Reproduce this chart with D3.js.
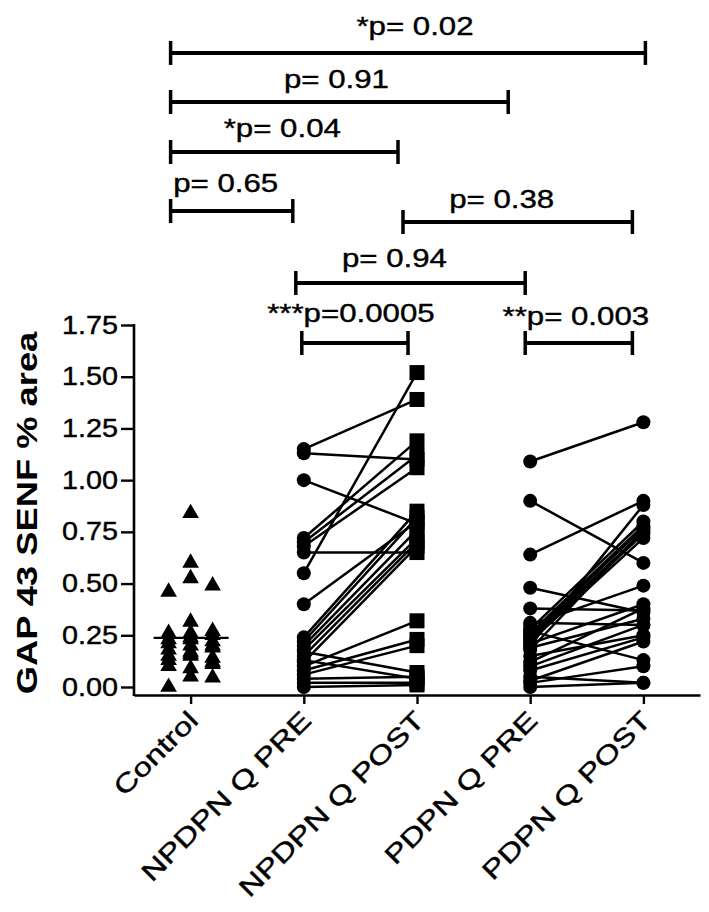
<!DOCTYPE html>
<html><head><meta charset="utf-8">
<script src="https://cdn.jsdelivr.net/npm/d3@7"></script>
<style>body{margin:0;background:#fff} svg{display:block}</style>
</head><body><svg id="c" width="709" height="912"></svg>
<script>
// ---------------- DATA ----------------
const categories = ["Control", "NPDPN Q PRE", "NPDPN Q POST", "PDPN Q PRE", "PDPN Q POST"];
const yTicks = [0, 0.25, 0.5, 0.75, 1.0, 1.25, 1.5, 1.75];
const yTitle = "GAP 43 SENF % area";

const controlValues = [0.84, 0.60, 0.525, 0.49, 0.46, 0.315, 0.27, 0.26, 0.26, 0.25, 0.24, 0.23, 0.23, 0.22, 0.21, 0.20,
  0.20, 0.19, 0.18, 0.17, 0.16, 0.15, 0.15, 0.14, 0.13, 0.12, 0.11, 0.10, 0.09, 0.05, 0.045, 0.00];

const npdpnPre  = [1.15, 1.13, 1.00, 0.55, 0.72, 0.70, 0.65, 0.68, 0.40, 0.24, 0.22, 0.20, 0.18, 0.15, 0.12, 0.10, 0.08, 0.06, 0.17, 0.04, 0.02, 0.00, 0.13];
const npdpnPost = [1.39, 1.10, 0.79, 1.52, 1.19, 1.12, 0.65, 1.06, 0.80, 0.85, 0.82, 0.76, 0.72, 0.70, 0.68, 0.32, 0.23, 0.20, 0.07, 0.05, 0.02, 0.01, 0.04];

const pdpnPre  = [1.09, 0.90, 0.64, 0.48, 0.38, 0.30, 0.28, 0.26, 0.25, 0.24, 0.23, 0.22, 0.20, 0.18, 0.27, 0.31, 0.21, 0.19, 0.15, 0.12, 0.10, 0.08, 0.05, 0.02, 0.03, 0.00];
const pdpnPost = [1.28, 0.60, 0.90, 0.36, 0.37, 0.49, 0.80, 0.78, 0.77, 0.75, 0.74, 0.72, 0.88, 0.76, 0.13, 0.30, 0.40, 0.33, 0.25, 0.38, 0.30, 0.24, 0.02, 0.10, 0.22, 0.02];

const annLabels = ["*p= 0.02", "p= 0.91", "*p= 0.04", "p= 0.65", "p= 0.38", "p= 0.94", "***p=0.0005", "**p= 0.003"];
const annFrom = [0, 0, 0, 0, 2, 1, 1, 3];
const annTo   = [4, 3, 2, 1, 4, 3, 2, 4];

// ---------------- LAYOUT ----------------
const annLayout = [ // bar y, end nudges, label centre nudge, label baseline offset
  {y: 53,  d1: -20, d2: 2,   tdx: 7,   tdy: -18},
  {y: 102, d1: -20, d2: -22, tdx: -3,  tdy: -14},
  {y: 152, d1: -20, d2: -19, tdx: -2,  tdy: -15},
  {y: 211, d1: -20, d2: -11, tdx: -6,  tdy: -19},
  {y: 222, d1: -14, d2: -11, tdx: -16, tdy: -14},
  {y: 283, d1: -8,  d2: -5,  tdx: -16, tdy: -16},
  {y: 343, d1: -2,  d2: -9,  tdx: -4,  tdy: -21},
  {y: 343, d1: -5,  d2: -11, tdx: -3,  tdy: -18}
];

const font = "'Liberation Sans', Arial, Helvetica, sans-serif";
const axisX0 = 134, axisX1 = 700, axisY = 695;
const svg = d3.select("#c");

const x = d3.scalePoint().domain(categories).range([axisX0, axisX1]).padding(0.5);
const y = d3.scaleLinear().domain([0, 1.75]).range([687, 325]);

function fit(sel, f) {
  sel.each(function () {
    const w = this.getComputedTextLength();
    d3.select(this).attr("textLength", w * f).attr("lengthAdjust", "spacingAndGlyphs");
  });
}
function heavy(sel, w) { sel.attr("stroke", "#000").attr("stroke-width", w).attr("paint-order", "stroke"); }

// ---- Y axis ----
const gy = svg.append("g").attr("transform", `translate(${axisX0},0)`)
  .call(d3.axisLeft(y).tickValues(yTicks).tickFormat(d3.format(".2f")).tickSize(13).tickPadding(3));
gy.select(".domain").remove();
gy.append("line").attr("x1", 0).attr("x2", 0).attr("y1", y(1.75) - 1).attr("y2", axisY + 1)
  .attr("stroke", "#000").attr("stroke-width", 2.6);
gy.selectAll(".tick line").attr("stroke", "#000").attr("stroke-width", 2.4);
gy.selectAll(".tick text").attr("font-family", font).attr("font-size", 25).attr("fill", "#000")
  .call(fit, 1.15).call(heavy, 0.4);

// ---- X axis ----
const gx = svg.append("g").attr("transform", `translate(0,${axisY})`)
  .call(d3.axisBottom(x).tickSize(9).tickSizeOuter(0).tickFormat(""));
gx.select(".domain").attr("stroke", "#000").attr("stroke-width", 2.6);
gx.selectAll(".tick line").attr("stroke", "#000").attr("stroke-width", 2.4);

svg.append("g").selectAll("text").data(categories).join("text")
  .attr("transform", d => `translate(${x(d) + 9},722) rotate(-45)`)
  .attr("text-anchor", "end")
  .attr("font-family", font).attr("font-size", 26).attr("fill", "#000")
  .text(d => d)
  .call(fit, 1.27).call(heavy, 0.4);

// ---- Y title ----
svg.append("text")
  .attr("transform", `translate(37,${(y(1.75) + axisY) / 2 + 3}) rotate(-90)`)
  .attr("text-anchor", "middle")
  .attr("font-family", font).attr("font-size", 30).attr("font-weight", "bold").attr("fill", "#000")
  .text(yTitle)
  .call(fit, 1.21);

// ---- paired lines ----
const pairs = [
  {a: categories[1], b: categories[2], pre: npdpnPre, post: npdpnPost},
  {a: categories[3], b: categories[4], pre: pdpnPre, post: pdpnPost}
];
const gLines = svg.append("g");
pairs.forEach(p => {
  gLines.selectAll(null).data(p.pre.map((v, i) => [v, p.post[i]])).join("line")
    .attr("x1", x(p.a)).attr("x2", x(p.b))
    .attr("y1", d => y(d[0])).attr("y2", d => y(d[1]))
    .attr("stroke", "#000").attr("stroke-width", 2.5);
});

// ---- markers ----
const gM = svg.append("g");
[[categories[1], npdpnPre], [categories[3], pdpnPre], [categories[4], pdpnPost]].forEach(([c, vals]) => {
  gM.selectAll(null).data(vals).join("circle")
    .attr("cx", x(c)).attr("cy", d => y(d)).attr("r", 7).attr("fill", "#000");
});
gM.selectAll(null).data(npdpnPost).join("rect")
  .attr("x", x(categories[2]) - 7.5).attr("y", d => y(d) - 7.5)
  .attr("width", 15).attr("height", 15).attr("fill", "#000");

// control triangles, scatter spread (overlap allowed, limited width)
const step = 11, maxK = 6;
const placed = [];
controlValues.map(v => ({v})).sort((a, b) => b.v - a.v).forEach(p => {
  const py = y(p.v);
  let best = null, bestC = Infinity;
  for (let k = 0; k <= maxK; k++) {
    const off = (k % 2 ? 1 : -1) * Math.ceil(k / 2) * step;
    const c = placed.filter(q => Math.abs(q.off - off) < 20 && Math.abs(q.py - py) < 15).length;
    if (c < bestC) { bestC = c; best = off; }
    if (c === 0) break;
  }
  p.off = best; p.py = py; placed.push(p);
});
const tri = d3.symbol(d3.symbolTriangle, 120);
gM.selectAll(null).data(placed).join("path")
  .attr("d", tri)
  .attr("transform", d => `translate(${x(categories[0]) + d.off},${d.py})`)
  .attr("fill", "#000");
const cm = d3.mean(controlValues);
svg.append("line").attr("x1", x(categories[0]) - 37).attr("x2", x(categories[0]) + 38)
  .attr("y1", y(cm)).attr("y2", y(cm)).attr("stroke", "#000").attr("stroke-width", 2.2);

// ---- significance annotations ----
const gA = svg.append("g");
annLabels.forEach((lab, i) => {
  const L = annLayout[i];
  const x1 = x(categories[annFrom[i]]) + L.d1;
  const x2 = x(categories[annTo[i]]) + L.d2;
  gA.append("line").attr("x1", x1).attr("x2", x2).attr("y1", L.y).attr("y2", L.y)
    .attr("stroke", "#000").attr("stroke-width", 4);
  [x1, x2].forEach(xx => gA.append("line").attr("x1", xx).attr("x2", xx)
    .attr("y1", L.y - 12).attr("y2", L.y + 12).attr("stroke", "#000").attr("stroke-width", 3.5));
  const m = lab.match(/^(\**)(.*)$/);
  const t = gA.append("text")
    .attr("x", (x1 + x2) / 2 + L.tdx).attr("y", L.y + L.tdy)
    .attr("text-anchor", "middle")
    .attr("font-family", font).attr("font-size", 26).attr("fill", "#000");
  if (m[1]) t.append("tspan").text(m[1]);
  t.append("tspan").text(m[2]);
  t.call(fit, 1.2).call(heavy, 0.4);
});
</script>
</body></html>
